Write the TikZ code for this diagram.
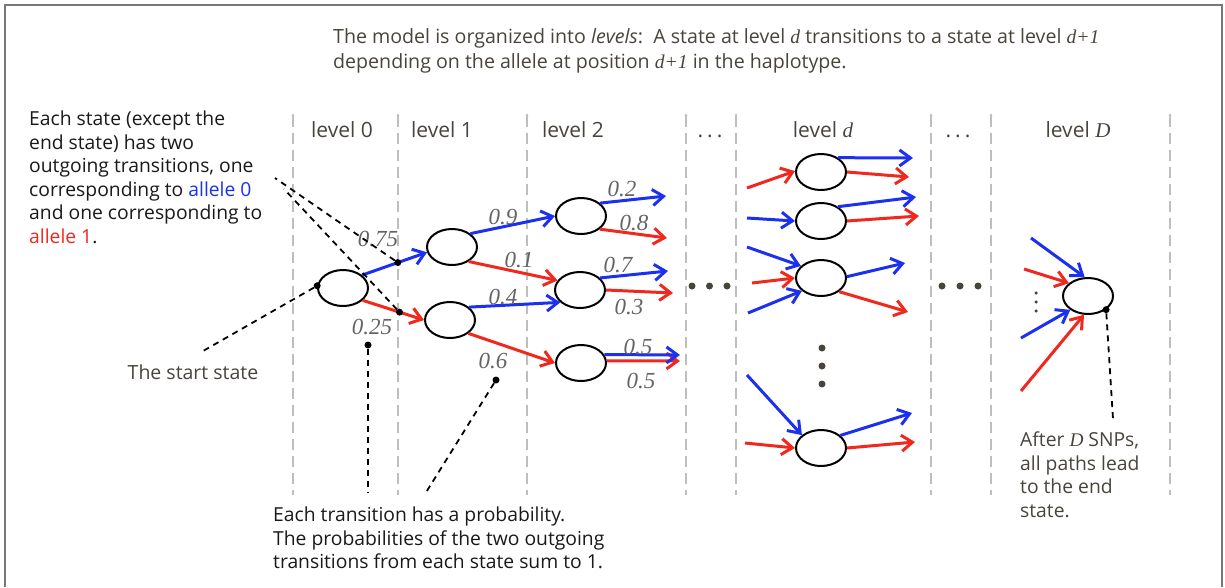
\documentclass[tikz,border=0pt]{standalone}
\usepackage{fontspec}
\setmainfont{Open Sans}
\newfontfamily\numfont{Liberation Serif}
\usetikzlibrary{shapes.geometric,arrows.meta}

\definecolor{ablue}{RGB}{28,48,240}
\definecolor{ared}{RGB}{240,40,30}
\definecolor{txt}{RGB}{72,68,60}
\definecolor{ink}{RGB}{25,25,25}
\definecolor{probgray}{RGB}{100,100,100}
\definecolor{levline}{RGB}{190,190,190}
\definecolor{framegray}{RGB}{120,120,120}

% italic serif letters used for variables
\newcommand{\mvar}[1]{{\numfont\itshape #1}}
% widely spaced ellipsis for the skipped levels
\newcommand{\wdots}{.\hspace{4pt}.\hspace{4pt}.}

\begin{document}
\begin{tikzpicture}[x=1pt,y=-1pt,
  state/.style={ellipse,draw=black,line width=2pt,minimum width=50pt,minimum height=36pt,inner sep=0pt},
  trans/.style={line width=3pt,-{Straight Barb[length=11pt,width=16pt]}},
  zero/.style={trans,draw=ablue},
  one/.style={trans,draw=ared},
  prob/.style={font=\fontsize{23}{23}\selectfont\numfont\itshape,text=probgray,inner sep=0pt},
  lvl/.style={font=\fontsize{21}{24}\selectfont,text=txt,anchor=base,inner sep=0pt},
  callout/.style={draw=black,line width=1.8pt,dash pattern=on 6pt off 5pt},
  calldot/.style={circle,fill=black,inner sep=0pt,minimum size=7pt},
  ellipsisdot/.style={circle,fill=txt,inner sep=0pt,minimum size=7pt},
  smalldot/.style={circle,fill=txt,inner sep=0pt,minimum size=3.5pt},
  levsep/.style={draw=levline,line width=2pt,dash pattern=on 11pt off 6pt},
  para/.style={anchor=north west,align=left,inner sep=0pt,font=\fontsize{19.3}{23.5}\selectfont}
]
\useasboundingbox (0,0) rectangle (1225,587);

% frame
\draw[framegray,line width=1.5pt] (5,587) -- (5,5) -- (1222,5) -- (1222,587);

% level separators
\foreach \x in {293,398,527,686,736,931,991,1170}
  \draw[levsep,{Latex[length=3pt,width=3pt]}-] (\x,113) -- (\x,495);

% headline
\node[para,font=\fontsize{19.6}{25}\selectfont,text=txt] (title) at (333,28)
  {The model is organized into \textit{levels}:\ \ A state at level \mvar{d} transitions to a state at level \mvar{d+1}\\
   depending on the allele at position \mvar{d+1} in the haplotype.};

% level labels
\node[lvl] (lev0) at (342,137) {level 0};
\node[lvl] (lev1) at (442,137) {level 1};
\node[lvl] (lev2) at (573,137) {level 2};
\node[lvl] (skip1) at (710,137) {\wdots};
\node[lvl] (levd) at (823,137) {level \mvar{d}};
\node[lvl] (skip2) at (958,137) {\wdots};
\node[lvl] (levD) at (1078,137) {level \mvar{D}};

% states
\node[state] (s0)  at (343,288) {};
\node[state] (l1a) at (452,247) {};
\node[state] (l1b) at (450,320) {};
\node[state] (l2a) at (581,216) {};
\node[state] (l2b) at (580,290) {};
\node[state] (l2c) at (581,363) {};
\node[state] (d1)  at (821,172) {};
\node[state] (d2)  at (821,221) {};
\node[state] (d3)  at (821,278) {};
\node[state] (d4)  at (821,448) {};
\node[state] (fin) at (1088,296) {};

% loose arrow ends
\coordinate (a0) at (666,196);  \coordinate (a1) at (667,238);
\coordinate (b0) at (668,271);  \coordinate (b1) at (673,293);
\coordinate (c0) at (680,355);  \coordinate (c1) at (680,361);
\coordinate (d1i) at (747,188); \coordinate (d1o0) at (913,158); \coordinate (d1o1) at (909,177);
\coordinate (d2i) at (747,218); \coordinate (d2o0) at (916,197); \coordinate (d2o1) at (919,216);
\coordinate (d3i0) at (747,247); \coordinate (d3i1) at (752,283); \coordinate (d3i2) at (748,313);
\coordinate (d3o0) at (905,263); \coordinate (d3o1) at (908,312);
\coordinate (d4i0) at (747,375); \coordinate (d4i1) at (745,443);
\coordinate (d4o0) at (912,413); \coordinate (d4o1) at (915,442);
\coordinate (fi0) at (1031,238); \coordinate (fi1) at (1024,269);
\coordinate (fi2) at (1021,338); \coordinate (fi3) at (1021,391);

% transitions of the first levels
\draw[zero] (s0.34) -- (l1a.192);
\draw[one]  (s0.-32) -- (l1b.180);
\draw[zero] (l1a.36) -- (l2a.180);
\draw[one]  (l1a.-41) -- (l2b.157);
\draw[zero] (l1b.34) -- (l2b.212);
\draw[one]  (l1b.-36) -- (l2c.180);
\draw[zero] (l2a.34) -- (a0);
\draw[one]  (l2a.-35) -- (a1);
\draw[zero] (l2b.31) -- (b0);
\draw[one]  (l2b.0) -- (b1);
\draw[one]  (l2c.5) -- (c1);
\draw[zero] (l2c.20) -- (c0);

% level d
\draw[one]  (d1i) -- (d1.178);
\draw[zero] (d1.40) -- (d1o0);
\draw[one]  (d1.0) -- (d1o1);
\draw[zero] (d2i) -- (d2.180);
\draw[zero] (d2.40) -- (d2o0);
\draw[one]  (d2.0) -- (d2o1);
\draw[zero] (d3i0) -- (d3.149);
\draw[one]  (d3i1) -- (d3.180);
\draw[zero] (d3i2) -- (d3.214);
\draw[zero] (d3.3) -- (d3o0);
\draw[one]  (d3.-37) -- (d3o1);
\draw[zero] (d4i0) -- (d4.146);
\draw[one]  (d4i1) -- (d4.180);
\draw[zero] (d4.33) -- (d4o0);
\draw[one]  (d4.0) -- (d4o1);

% level D
\draw[zero] (fi0) -- (fin.100);
\draw[one]  (fi1) -- (fin.146);
\draw[zero] (fi2) -- (fin.218);
\draw[one]  (fi3) -- (fin.258);

% elided states
\node[ellipsisdot] (h1) at (692,286) {};
\node[ellipsisdot] (h2) at (709.5,286) {};
\node[ellipsisdot] (h3) at (727,286) {};
\node[ellipsisdot] (h4) at (942,286) {};
\node[ellipsisdot] (h5) at (960,286) {};
\node[ellipsisdot] (h6) at (978,286) {};
\node[ellipsisdot] (v1) at (822,348) {};
\node[ellipsisdot] (v2) at (822,366) {};
\node[ellipsisdot] (v3) at (822,384) {};
\node[smalldot] (w1) at (1036,293) {};
\node[smalldot] (w2) at (1036,302) {};
\node[smalldot] (w3) at (1036,311) {};

% probabilities
\node[prob] (p075) at (378,239) {0.75};
\node[prob] (p025) at (372,327) {0.25};
\node[prob] (p09)  at (503,217) {0.9};
\node[prob] (p01)  at (519,260) {0.1};
\node[prob] (p04)  at (503,297) {0.4};
\node[prob] (p06)  at (493,361) {0.6};
\node[prob] (p02)  at (622,189) {0.2};
\node[prob] (p08)  at (634,223) {0.8};
\node[prob] (p07)  at (618,265) {0.7};
\node[prob] (p03)  at (629,307) {0.3};
\node[prob] (p05a) at (638,347) {0.5};
\node[prob] (p05b) at (641,381) {0.5};

% callouts
\path (s0.34) -- (l1a.192) coordinate[pos=0.55] (m1);
\path (s0.-32) -- (l1b.180) coordinate[pos=0.6] (m2);
\node[calldot] (k1) at (m1) {};
\node[calldot] (k2) at (m2) {};
\coordinate (q1) at (275,178);
\coordinate (q2) at (284,189);
\draw[callout] (k1) -- (q1);
\draw[callout] (k2) -- (q2);

\node[calldot] (ks) at (s0.175) {};
\coordinate (qs) at (203,351);
\draw[callout] (ks) -- (qs);

\node[calldot] (k25) at (368,345) {};
\coordinate (q25) at (368,493);
\draw[callout] (k25) -- (q25);

\node[calldot] (k6) at (496,380) {};
\coordinate (q6) at (425,494);
\draw[callout] (k6) -- (q6);

\node[calldot] (kf) at (fin.-37) {};
\coordinate (qf) at (1113,419);
\draw[callout] (kf) -- (qf);

% explanations
\node[para,text=ink] (states) at (29,111)
  {Each state (except the\\end state) has two\\outgoing transitions, one\\
   corresponding to \textcolor{ablue}{allele 0}\\and one corresponding to\\\textcolor{ared}{allele 1}.};
\node[font=\fontsize{19.5}{23.5}\selectfont,text=txt,inner sep=0pt] (startlbl) at (193,372) {The start state};
\node[para,text=ink] (probs) at (273,507)
  {Each transition has a probability.\\The probabilities of the two outgoing\\transitions from each state sum to 1.};
\node[para,text=txt] (ends) at (1020,432)
  {After \mvar{D} SNPs,\\all paths lead\\to the end\\state.};
\end{tikzpicture}
\end{document}
